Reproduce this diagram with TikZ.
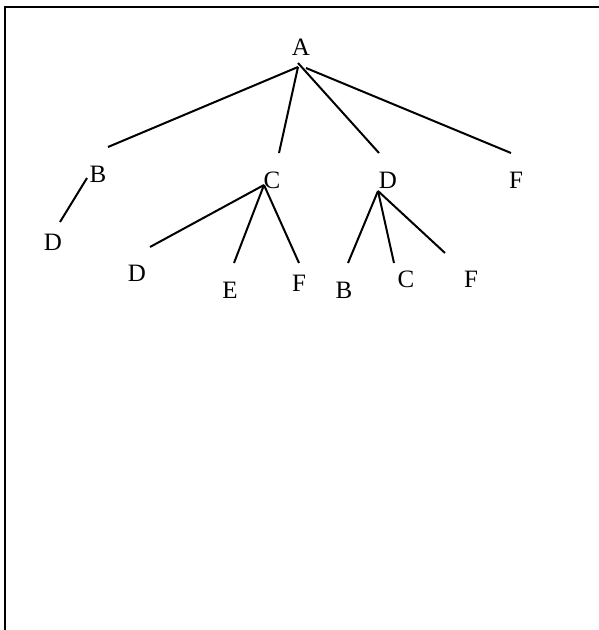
\documentclass[tikz,border=0pt]{standalone}
\usepackage{fontspec}
\setmainfont{Liberation Serif}
\begin{document}
\begin{tikzpicture}[x=1pt,y=-1pt,
  lbl/.style={inner sep=0pt,font=\fontsize{25}{27}\selectfont},
  edge/.style={line width=2pt},
  frame/.style={line width=2pt}]
\useasboundingbox (0,0) rectangle (599,630);
% open frame: top and left sides only
\draw[frame] (4.5,630) -- (4.5,6.5) -- (599,6.5);

% labels
\node[lbl] (A)  at (301,47)  {A};
\node[lbl] (B)  at (98,174)  {B};
\node[lbl] (C)  at (272,180) {C};
\node[lbl] (D)  at (388,180) {D};
\node[lbl] (F)  at (516,180) {F};
\node[lbl] (BD) at (53,242)  {D};
\node[lbl] (CD) at (137,273) {D};
\node[lbl] (CE) at (230,290) {E};
\node[lbl] (CF) at (299,283) {F};
\node[lbl] (DB) at (344,290) {B};
\node[lbl] (DC) at (406,279) {C};
\node[lbl] (DF) at (471,279) {F};

% branch points
\coordinate (a1) at (298,67);
\coordinate (a2) at (306,68);
\coordinate (a3) at (298,63);
\coordinate (b0) at (87,178);
\coordinate (c0) at (264,185);
\coordinate (d0) at (378,191);
% branch ends
\coordinate (tB) at (108,147);
\coordinate (tC) at (279,153);
\coordinate (tD) at (379,153);
\coordinate (tF) at (511,153);
\coordinate (tBD) at (60,222);
\coordinate (tCD) at (150,247);
\coordinate (tCE) at (234,263);
\coordinate (tCF) at (299,263);
\coordinate (tDB) at (348,263);
\coordinate (tDC) at (394,263);
\coordinate (tDF) at (445,253);

\draw[edge] (a1) -- (tB);
\draw[edge] (a1) -- (tC);
\draw[edge] (a3) -- (tD);
\draw[edge] (a2) -- (tF);
\draw[edge] (b0) -- (tBD);
\draw[edge] (c0) -- (tCD);
\draw[edge] (c0) -- (tCE);
\draw[edge] (c0) -- (tCF);
\draw[edge] (d0) -- (tDB);
\draw[edge] (d0) -- (tDC);
\draw[edge] (d0) -- (tDF);
\end{tikzpicture}
\end{document}
